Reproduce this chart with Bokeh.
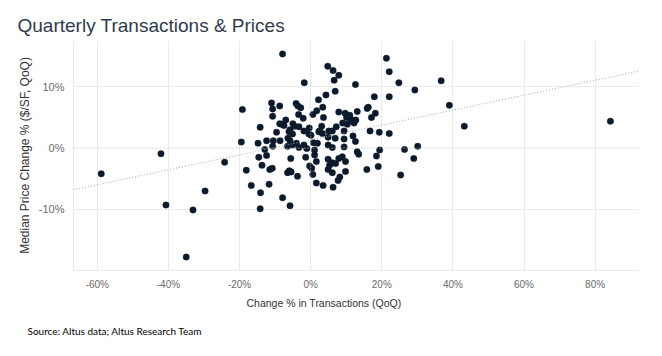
from bokeh.plotting import figure
from bokeh.models import Range1d, FixedTicker, PrintfTickFormatter, Span, Slope, Title
from bokeh.embed import file_html
from bokeh.resources import INLINE

# Change % in transactions (QoQ)
transactions_chg = [
    -58.9, -42.1, -40.7, -35.0, -33.1, -29.7, -24.2, -19.5, -19.2, -18.1,
    -16.7, -14.8, -14.6, -14.2, -14.1, -14.2, -13.7, -12.9, -12.4, -12.4,
    -11.7, -11.5, -10.8, -11.0, -10.7, -10.7, -10.5, -10.7, -9.6, -8.7,
    -8.7, -8.6, -7.9, -7.9, -8.2, -7.5, -7.0, -6.5, -6.0, -5.5,
    -6.4, -5.8, -6.5, -5.1, -6.1, -5.1, -5.8, -5.6, -5.8, -5.0,
    -4.5, -4.1, -3.6, -4.0, -3.7, -3.4, -3.3, -3.3, -2.8, -2.1,
    -1.8, -1.9, -1.9, -1.4, -1.1, -0.5, -0.4, -0.3, 0.1, 0.3,
    0.6, 0.6, 0.8, 1.1, 1.1, 1.6, 1.6, 1.7, 1.9, 2.2,
    2.3, 3.1, 3.3, 3.4, 3.6, 3.5, 4.3, 4.8, 4.9, 4.9,
    4.9, 4.9, 5.1, 2.5, 5.3, 6.1, 6.1, 6.1, 6.1, 6.3,
    6.3, 6.6, 6.9, 6.9, 7.0, 7.2, 7.9, 7.9, 7.9, 7.7,
    8.2, 8.9, 9.0, 9.4, 9.4, 9.4, 9.7, 9.8, 9.8, 10.1,
    10.3, 11.0, 11.2, 11.8, 11.9, 12.2, 12.7, 12.6, 12.6, 13.1,
    13.1, 13.5, 15.8, 15.9, 16.2, 16.7, 17.1, 17.9, 18.2, 18.5,
    19.0, 19.3, 19.4, 21.3, 22.1, 22.1, 22.1, 24.8, 25.3, 26.4,
    29.0, 29.3, 30.1, 36.7, 39.0, 43.2, 84.3,
]

# Median price change % ($/SF, QoQ)
price_chg = [
    -4.2, -0.9, -9.3, -17.8, -10.1, -7.0, -2.3, 1.0, 6.3, -3.6,
    -6.1, 0.8, -1.5, 3.4, -7.3, -9.9, -2.8, -0.2, 1.2, -1.2,
    -5.9, -3.5, -3.3, 7.4, 6.4, 5.2, 1.2, 0.3, 2.6, 6.9,
    4.0, 1.2, 15.4, -8.1, 3.9, 3.7, 4.6, -4.0, -3.7, -3.9,
    1.6, 1.2, 0.3, 0.5, 2.7, 2.3, 3.0, -1.7, -9.4, 4.0,
    3.6, 7.3, 6.9, 0.8, -4.6, 5.5, 3.5, 0.1, 6.6, 4.9,
    10.7, 2.8, 0.5, -1.5, -0.05, 2.3, 3.3, -2.9, 2.1, -3.3,
    5.5, -4.3, 0.9, -0.3, -1.1, -2.2, -5.7, 6.1, 0.8, 7.9,
    2.7, 3.6, 2.4, 6.7, 5.0, -6.1, 8.7, 13.4, 1.8, 0.5,
    -1.8, -3.5, 2.8, 2.8, -2.8, 2.8, 0.1, -2.4, -4.0, 12.7,
    -6.4, 11.1, 9.3, 1.6, -2.5, 3.5, 5.9, 11.9, -1.7, -5.3,
    -4.7, -1.4, 4.1, 2.8, 1.5, 0.2, 5.7, -2.2, -3.8, 5.0,
    3.9, 5.4, 4.8, 4.4, 2.0, 4.1, 4.6, 10.4, 1.1, 6.0,
    -0.6, -1.0, -3.5, 6.5, 6.7, 2.8, 5.0, 8.4, 5.7, -1.3,
    -3.0, 2.6, -0.3, 14.7, 12.5, 8.4, 2.4, 10.7, -4.4, -0.2,
    -1.7, 9.5, 0.3, 11.0, 7.0, 3.6, 4.4,
]

x_ticks = [-60, -40, -20, 0, 20, 40, 60, 80]
y_ticks = [-10, 0, 10]

# Linear trend line
trend_gradient = 0.122
trend_intercept = 1.34

title_text = "Quarterly Transactions & Prices"
x_title = "Change % in Transactions (QoQ)"
y_title = "Median Price Change % ($/SF, QoQ)"
source_text = "Source: Altus data; Altus Research Team"

p = figure(width=662, height=356, output_backend="svg", toolbar_location=None,
           x_range=Range1d(-66.7, 92.2), y_range=Range1d(-20.0, 17.6),
           min_border_left=73, min_border_right=24, min_border_top=40,
           min_border_bottom=86)
p.outline_line_color = None
p.background_fill_color = "white"
p.border_fill_color = "white"

p.title.text = title_text
p.title.text_font = "Liberation Sans"
p.title.text_font_size = "19px"
p.title.text_font_style = "normal"
p.title.text_color = "#2f3b4c"
p.title.align = "left"
p.title.offset = -56
p.title.standoff = 10

for ax in (p.xaxis[0], p.yaxis[0]):
    ax.major_tick_line_color = None
    ax.minor_tick_line_color = None
    ax.major_tick_out = 0
    ax.major_tick_in = 0
    ax.minor_tick_out = 0
    ax.axis_line_color = "#ebebeb"
    ax.major_label_text_font = "Liberation Sans"
    ax.major_label_text_color = "#6b6b6b"
    ax.formatter = PrintfTickFormatter(format="%d%%")

p.xaxis.major_label_text_font_size = "10px"
p.yaxis.major_label_text_font_size = "11px"
p.xaxis.ticker = FixedTicker(ticks=x_ticks)
p.yaxis.ticker = FixedTicker(ticks=y_ticks)
p.xaxis.major_label_standoff = 8
p.yaxis.major_label_standoff = 9

p.yaxis.axis_label = y_title
p.yaxis.axis_label_text_font = "Liberation Sans"
p.yaxis.axis_label_text_font_size = "12px"
p.yaxis.axis_label_text_font_style = "normal"
p.yaxis.axis_label_text_color = "#333333"
p.yaxis.axis_label_standoff = 4

p.xgrid.ticker = FixedTicker(ticks=[t for t in x_ticks if t != 0])
p.ygrid.ticker = FixedTicker(ticks=[t for t in y_ticks if t != 0])
p.xgrid.grid_line_color = "#ebebeb"
p.ygrid.grid_line_color = "#ebebeb"

p.add_layout(Span(location=0, dimension="height", line_color="#bdbdbd",
                  line_dash="1 2", line_width=1))
p.add_layout(Span(location=0, dimension="width", line_color="#bdbdbd",
                  line_dash="1 2", line_width=1))
p.add_layout(Slope(gradient=trend_gradient, y_intercept=trend_intercept,
                   line_color="#a8a8a8", line_dash="1 2", line_width=1))

p.scatter(transactions_chg, price_chg, size=6.5, fill_color="#0c1a2c",
          line_color="#0c1a2c", line_width=0.3)

xt = Title(text=x_title, align="left", offset=173, text_font="Liberation Sans",
           text_font_size="10.5px", text_font_style="normal", text_color="#333333",
           standoff=4)
p.add_layout(xt, "below")
st = Title(text=source_text, align="left", offset=-46, text_font="Lato",
           text_font_size="10px", text_font_style="normal", text_color="#000000",
           standoff=25)
p.add_layout(st, "below")

open("out.html", "w").write(file_html(p, INLINE))
